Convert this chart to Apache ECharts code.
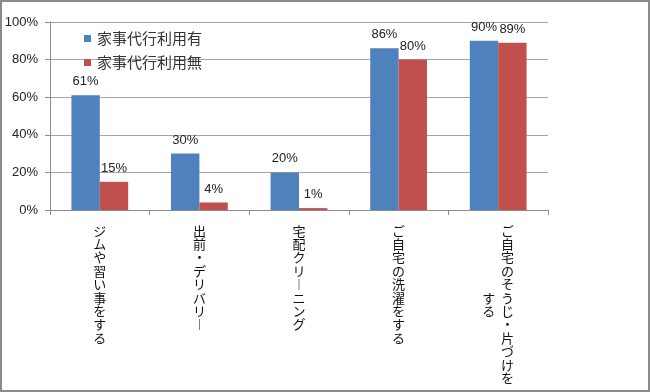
<!DOCTYPE html>
<html>
<head>
<meta charset="utf-8">
<script src="https://cdn.jsdelivr.net/npm/echarts@6/dist/echarts.min.js"></script>
<style>
html,body{margin:0;padding:0;background:#fff;}
#chart{width:650px;height:392px;box-sizing:border-box;border:2px solid #8a8a8a;}
</style>
</head>
<body>
<div id="chart"></div>
<script>
// ---- data ----
const categories = ['ジムや習い事をする', '出前・デリバリー', '宅配クリーニング', 'ご自宅の洗濯をする', 'ご自宅のそうじ・片づけをする'];
const seriesNames = ['家事代行利用有', '家事代行利用無'];
const withService = [61, 30, 20, 86, 90];
const withoutService = [15, 4, 1, 80, 89];
const yTicks = [0, 20, 40, 60, 80, 100];

// vertical (tategaki-like) label: one character per line, columns of 12 chars, right-to-left
function verticalLabel(str) {
  const chars = Array.from(str.replace(/ー/g, '︱'));
  const per = 12;
  const cols = [];
  for (let i = 0; i < chars.length; i += per) cols.push(chars.slice(i, i + per));
  if (cols.length === 1) return cols[0].join('\n');
  const n = cols[0].length;
  const lines = [];
  for (let r = 0; r < n; r++) {
    let line = '';
    for (let c = cols.length - 1; c >= 0; c--) {
      const col = cols[c];
      const off = Math.floor((n - col.length) / 2);
      const ch = col[r - off] || '\u3000';
      line += ch + (c > 0 ? '  ' : '');
    }
    lines.push(line);
  }
  return lines.join('\n');
}

const chart = echarts.init(document.getElementById('chart'));
const font = '"Noto Sans CJK JP", "Liberation Sans", sans-serif';
chart.setOption({
  animation: false,
  textStyle: { fontFamily: font },
  color: ['#4F81BD', '#C0504D'],
  grid: { left: 48, right: 100, top: 20, bottom: 180, containLabel: false, outerBoundsMode: 'none' },
  legend: {
    orient: 'vertical',
    left: 77,
    top: 24,
    itemWidth: 7,
    itemHeight: 7,
    itemGap: 9,
    icon: 'rect',
    textStyle: { fontSize: 15, color: '#333', fontFamily: font, padding: [0, 0, 0, 1] },
    data: seriesNames
  },
  xAxis: {
    type: 'category',
    data: categories,
    axisLine: { lineStyle: { color: '#8c8c8c', width: 1 } },
    axisTick: { show: true, length: 5, alignWithLabel: false, lineStyle: { color: '#8c8c8c' } },
    axisLabel: {
      interval: 0,
      margin: 14,
      fontSize: 13,
      lineHeight: 13.4,
      color: '#111',
      fontFamily: font,
      formatter: function (v) { return verticalLabel(v); }
    }
  },
  yAxis: {
    type: 'value',
    min: yTicks[0],
    max: yTicks[yTicks.length - 1],
    interval: 20,
    axisLine: { show: true, lineStyle: { color: '#8c8c8c' } },
    axisTick: { show: true, length: 5, lineStyle: { color: '#8c8c8c' } },
    splitLine: { lineStyle: { color: '#a6a6a6', width: 1 } },
    axisLabel: {
      margin: 12,
      fontSize: 13,
      color: '#222',
      fontFamily: '"Liberation Sans", sans-serif',
      formatter: '{value}%'
    }
  },
  series: [
    {
      name: seriesNames[0],
      type: 'bar',
      data: withService,
      barGap: '0%',
      barCategoryGap: '43%',
      label: { show: true, position: 'top', distance: 7, fontSize: 13, color: '#222', fontFamily: '"Liberation Sans", sans-serif', formatter: '{c}%' }
    },
    {
      name: seriesNames[1],
      type: 'bar',
      data: withoutService,
      barGap: '0%',
      barCategoryGap: '43%',
      label: { show: true, position: 'top', distance: 7, fontSize: 13, color: '#222', fontFamily: '"Liberation Sans", sans-serif', formatter: '{c}%' }
    }
  ]
});
</script>
</body>
</html>
